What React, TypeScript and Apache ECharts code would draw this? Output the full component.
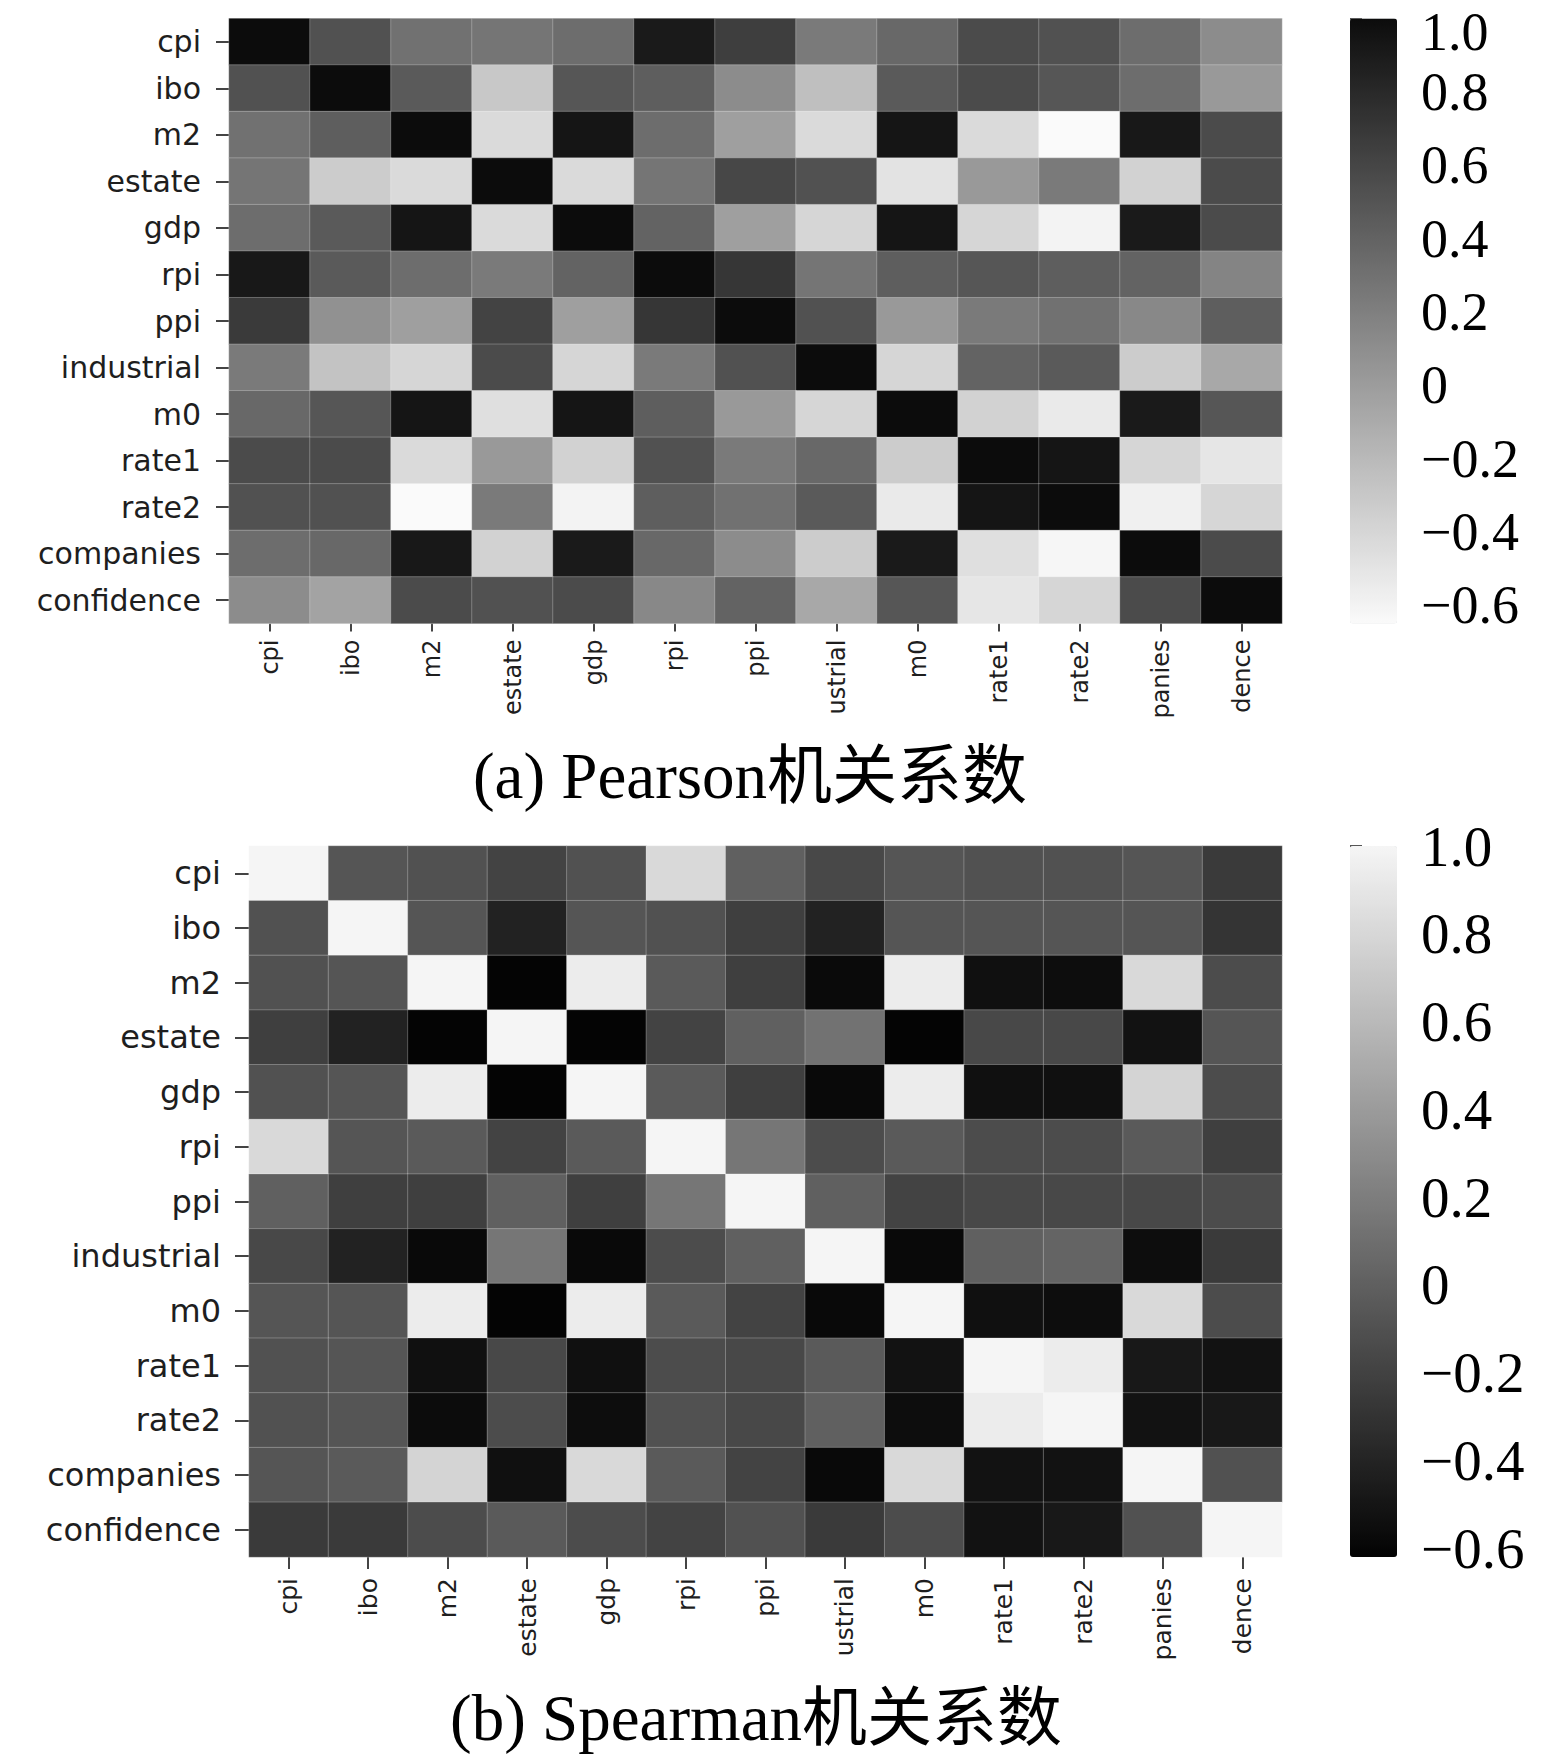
import React, { useEffect, useRef } from "react";
import * as echarts from "echarts";

// ---------- data ----------
const rowLabels = ["cpi", "ibo", "m2", "estate", "gdp", "rpi", "ppi", "industrial", "m0", "rate1", "rate2", "companies", "confidence"];
// x labels appear clipped in the original figure
const colLabels = ["cpi", "ibo", "m2", "estate", "gdp", "rpi", "ppi", "ustrial", "m0", "rate1", "rate2", "panies", "dence"];

const pearson: number[][] = [
  [1.0, 0.52, 0.30, 0.27, 0.33, 0.90, 0.65, 0.24, 0.36, 0.56, 0.52, 0.33, 0.11],
  [0.52, 1.0, 0.46, -0.30, 0.49, 0.43, 0.11, -0.24, 0.46, 0.56, 0.49, 0.33, 0.02],
  [0.30, 0.43, 1.0, -0.43, 0.94, 0.33, -0.02, -0.43, 0.94, -0.43, -0.65, 0.92, 0.56],
  [0.27, -0.33, -0.43, 1.0, -0.43, 0.27, 0.59, 0.52, -0.49, 0.02, 0.24, -0.37, 0.56],
  [0.33, 0.46, 0.94, -0.43, 1.0, 0.40, -0.02, -0.40, 0.94, -0.40, -0.60, 0.90, 0.56],
  [0.92, 0.46, 0.33, 0.24, 0.40, 1.0, 0.71, 0.27, 0.43, 0.49, 0.43, 0.40, 0.17],
  [0.68, 0.08, -0.02, 0.62, -0.02, 0.71, 1.0, 0.52, 0.02, 0.24, 0.30, 0.14, 0.43],
  [0.24, -0.27, -0.40, 0.56, -0.40, 0.24, 0.52, 1.0, -0.40, 0.40, 0.46, -0.33, -0.08],
  [0.36, 0.49, 0.94, -0.46, 0.94, 0.43, 0.02, -0.40, 1.0, -0.37, -0.54, 0.90, 0.49],
  [0.56, 0.56, -0.43, 0.02, -0.37, 0.52, 0.24, 0.36, -0.33, 1.0, 0.94, -0.40, -0.51],
  [0.52, 0.52, -0.65, 0.24, -0.60, 0.43, 0.30, 0.46, -0.54, 0.94, 1.0, -0.58, -0.40],
  [0.33, 0.36, 0.92, -0.37, 0.90, 0.36, 0.11, -0.33, 0.90, -0.46, -0.62, 1.0, 0.56],
  [0.11, -0.05, 0.56, 0.52, 0.56, 0.14, 0.40, -0.08, 0.49, -0.51, -0.40, 0.56, 1.0],
];

const spearman: number[][] = [
  [1.0, -0.07, -0.10, -0.19, -0.10, 0.81, 0.00, -0.16, -0.07, -0.10, -0.10, -0.07, -0.25],
  [-0.10, 1.0, -0.07, -0.41, -0.07, -0.10, -0.22, -0.41, -0.07, -0.07, -0.07, -0.07, -0.29],
  [-0.10, -0.07, 1.0, -0.61, 0.94, -0.04, -0.22, -0.57, 0.94, -0.53, -0.55, 0.81, -0.13],
  [-0.22, -0.41, -0.61, 1.0, -0.61, -0.19, 0.00, 0.12, -0.61, -0.16, -0.16, -0.52, -0.07],
  [-0.10, -0.07, 0.94, -0.61, 1.0, -0.04, -0.22, -0.58, 0.94, -0.53, -0.53, 0.78, -0.13],
  [0.81, -0.07, -0.04, -0.19, -0.04, 1.0, 0.15, -0.13, -0.04, -0.13, -0.13, -0.04, -0.22],
  [0.00, -0.22, -0.22, 0.00, -0.22, 0.15, 1.0, 0.00, -0.19, -0.16, -0.16, -0.16, -0.13],
  [-0.16, -0.41, -0.58, 0.15, -0.58, -0.13, 0.00, 1.0, -0.58, 0.00, 0.03, -0.55, -0.25],
  [-0.07, -0.07, 0.94, -0.61, 0.94, -0.04, -0.19, -0.58, 1.0, -0.53, -0.55, 0.81, -0.13],
  [-0.10, -0.07, -0.53, -0.16, -0.53, -0.13, -0.16, -0.04, -0.52, 1.0, 0.94, -0.48, -0.52],
  [-0.10, -0.07, -0.56, -0.13, -0.55, -0.10, -0.16, 0.00, -0.55, 0.94, 1.0, -0.52, -0.48],
  [-0.07, -0.04, 0.78, -0.53, 0.81, -0.04, -0.19, -0.58, 0.81, -0.52, -0.52, 1.0, -0.10],
  [-0.25, -0.25, -0.13, -0.04, -0.13, -0.19, -0.10, -0.25, -0.13, -0.52, -0.48, -0.10, 1.0],
];

// colorbar tick values (1.0 listed first so ECharts' min/max-label overlap rule never hides it)
const colorbarTicks = [1.0, -0.6, -0.4, -0.2, 0, 0.2, 0.4, 0.6, 0.8];
const pearsonRange = [-0.65, 1.0];
const spearmanRange = [-0.62, 1.0];
const titles = ["(a) Pearson机关系数", "(b) Spearman机关系数"];

// ---------- helpers ----------
const toCells = (m: number[][]) => {
  const out: [number, number, number][] = [];
  m.forEach((row, r) => row.forEach((v, c) => out.push([c, r, v])));
  return out;
};
const fmtTick = (v: number) =>
  Math.abs(v) < 1e-9 ? "0" : (v < 0 ? "\u2212" : "") + Math.abs(v).toFixed(1);

const SANS = "'DejaVu Sans', sans-serif";
const SERIF = "'Liberation Serif', 'Noto Sans CJK SC', serif";
const TICK = { color: "#444", width: 2 };

const G_TOP = { left: 229, top: 18.5, width: 1053, height: 605 };
const G_BOT = { left: 249, top: 846, width: 1033, height: 711 };
const CB_TOP = { left: 1350, top: 18.5, width: 47, height: 605 };
const CB_BOT = { left: 1350, top: 846, width: 47, height: 711 };

function catX(gridIndex: number, fontSize: number, margin: number, tickLen: number) {
  return {
    type: "category",
    gridIndex,
    data: colLabels,
    position: "bottom",
    axisLine: { show: false },
    axisTick: { show: true, alignWithLabel: true, length: tickLen, lineStyle: TICK },
    axisLabel: { rotate: 90, margin, fontSize, fontFamily: SANS, color: "#1e1e1e", interval: 0 },
    splitLine: { show: false },
    splitArea: { show: false },
  };
}
function catY(gridIndex: number, fontSize: number, margin: number, tickLen: number) {
  return {
    type: "category",
    gridIndex,
    data: rowLabels,
    inverse: true,
    axisLine: { show: false },
    axisTick: { show: true, alignWithLabel: true, length: tickLen, lineStyle: TICK },
    axisLabel: { margin, fontSize, fontFamily: SANS, color: "#1e1e1e", interval: 0 },
    splitLine: { show: false },
    splitArea: { show: false },
  };
}
function cbY(gridIndex: number, range: number[], topPad: number, fontSize: number) {
  return {
    type: "value",
    gridIndex,
    position: "right",
    min: range[0],
    max: range[1],
    axisLine: { show: false },
    splitLine: { show: false },
    axisTick: { show: true, length: 12, customValues: colorbarTicks, lineStyle: { color: "#555", width: 2 } },
    axisLabel: {
      customValues: colorbarTicks,
      showMinLabel: true,
      showMaxLabel: true,
      hideOverlap: false,
      margin: 24,
      fontSize,
      fontFamily: SERIF,
      color: "#000",
      formatter: (v: number) => (v >= 0.999 && topPad > 0 ? "{top|" + fmtTick(v) + "}" : fmtTick(v)),
      rich: {
        top: { fontSize, fontFamily: SERIF, color: "#000", padding: [topPad, 0, 0, 0] },
      },
    },
  };
}

export default function App() {
  const ref = useRef<HTMLDivElement>(null);
  useEffect(() => {
    if (!ref.current) return;
    const chart = echarts.init(ref.current, undefined, { renderer: "svg" });
    const option: any = {
      animation: false,
      backgroundColor: "#ffffff",
      title: [
        {
          text: titles[0], left: 750, top: 776, textAlign: "center", textVerticalAlign: "middle", padding: 0,
          textStyle: { fontFamily: SERIF, fontSize: 65, fontWeight: "normal", color: "#000" },
        },
        {
          text: titles[1], left: 756, top: 1718, textAlign: "center", textVerticalAlign: "middle", padding: 0,
          textStyle: { fontFamily: SERIF, fontSize: 65, fontWeight: "normal", color: "#000" },
        },
      ],
      grid: [
        { ...G_TOP, outerBoundsMode: "none" },
        { ...G_BOT, outerBoundsMode: "none" },
        { ...CB_TOP, outerBoundsMode: "none" },
        { ...CB_BOT, outerBoundsMode: "none" },
      ],
      xAxis: [
        catX(0, 24, 16, 8),
        catX(1, 25, 21, 12),
        { type: "value", gridIndex: 2, show: false, min: 0, max: 1 },
        { type: "value", gridIndex: 3, show: false, min: 0, max: 1 },
      ],
      yAxis: [
        catY(0, 30, 28, 13),
        catY(1, 32, 28, 14),
        cbY(2, pearsonRange, 26, 54),
        cbY(3, spearmanRange, 0, 57),
      ],
      visualMap: [
        {
          type: "continuous", seriesIndex: 0, min: pearsonRange[0], max: pearsonRange[1],
          calculable: false, orient: "vertical", left: CB_TOP.left, top: CB_TOP.top,
          itemWidth: CB_TOP.width, itemHeight: CB_TOP.height, padding: 0, hoverLink: false,
          inRange: { color: ["#fafafa", "#0c0c0c"] },
        },
        {
          type: "continuous", seriesIndex: 1, min: spearmanRange[0], max: spearmanRange[1],
          calculable: false, orient: "vertical", left: CB_BOT.left, top: CB_BOT.top,
          itemWidth: CB_BOT.width, itemHeight: CB_BOT.height, padding: 0, hoverLink: false,
          inRange: { color: ["#030303", "#f5f5f5"] },
        },
      ],
      series: [
        {
          type: "heatmap", xAxisIndex: 0, yAxisIndex: 0, data: toCells(pearson),
          itemStyle: { borderColor: "rgba(255,255,255,0.25)", borderWidth: 1 },
          emphasis: { disabled: true }, label: { show: false },
        },
        {
          type: "heatmap", xAxisIndex: 1, yAxisIndex: 1, data: toCells(spearman),
          itemStyle: { borderColor: "rgba(255,255,255,0.25)", borderWidth: 1 },
          emphasis: { disabled: true }, label: { show: false },
        },
      ],
    };
    chart.setOption(option);
    return () => chart.dispose();
  }, []);
  return (
    <div
      ref={ref}
      style={{ position: "absolute", left: 0, top: 0, width: 1541, height: 1761, background: "#fff" }}
    />
  );
}
